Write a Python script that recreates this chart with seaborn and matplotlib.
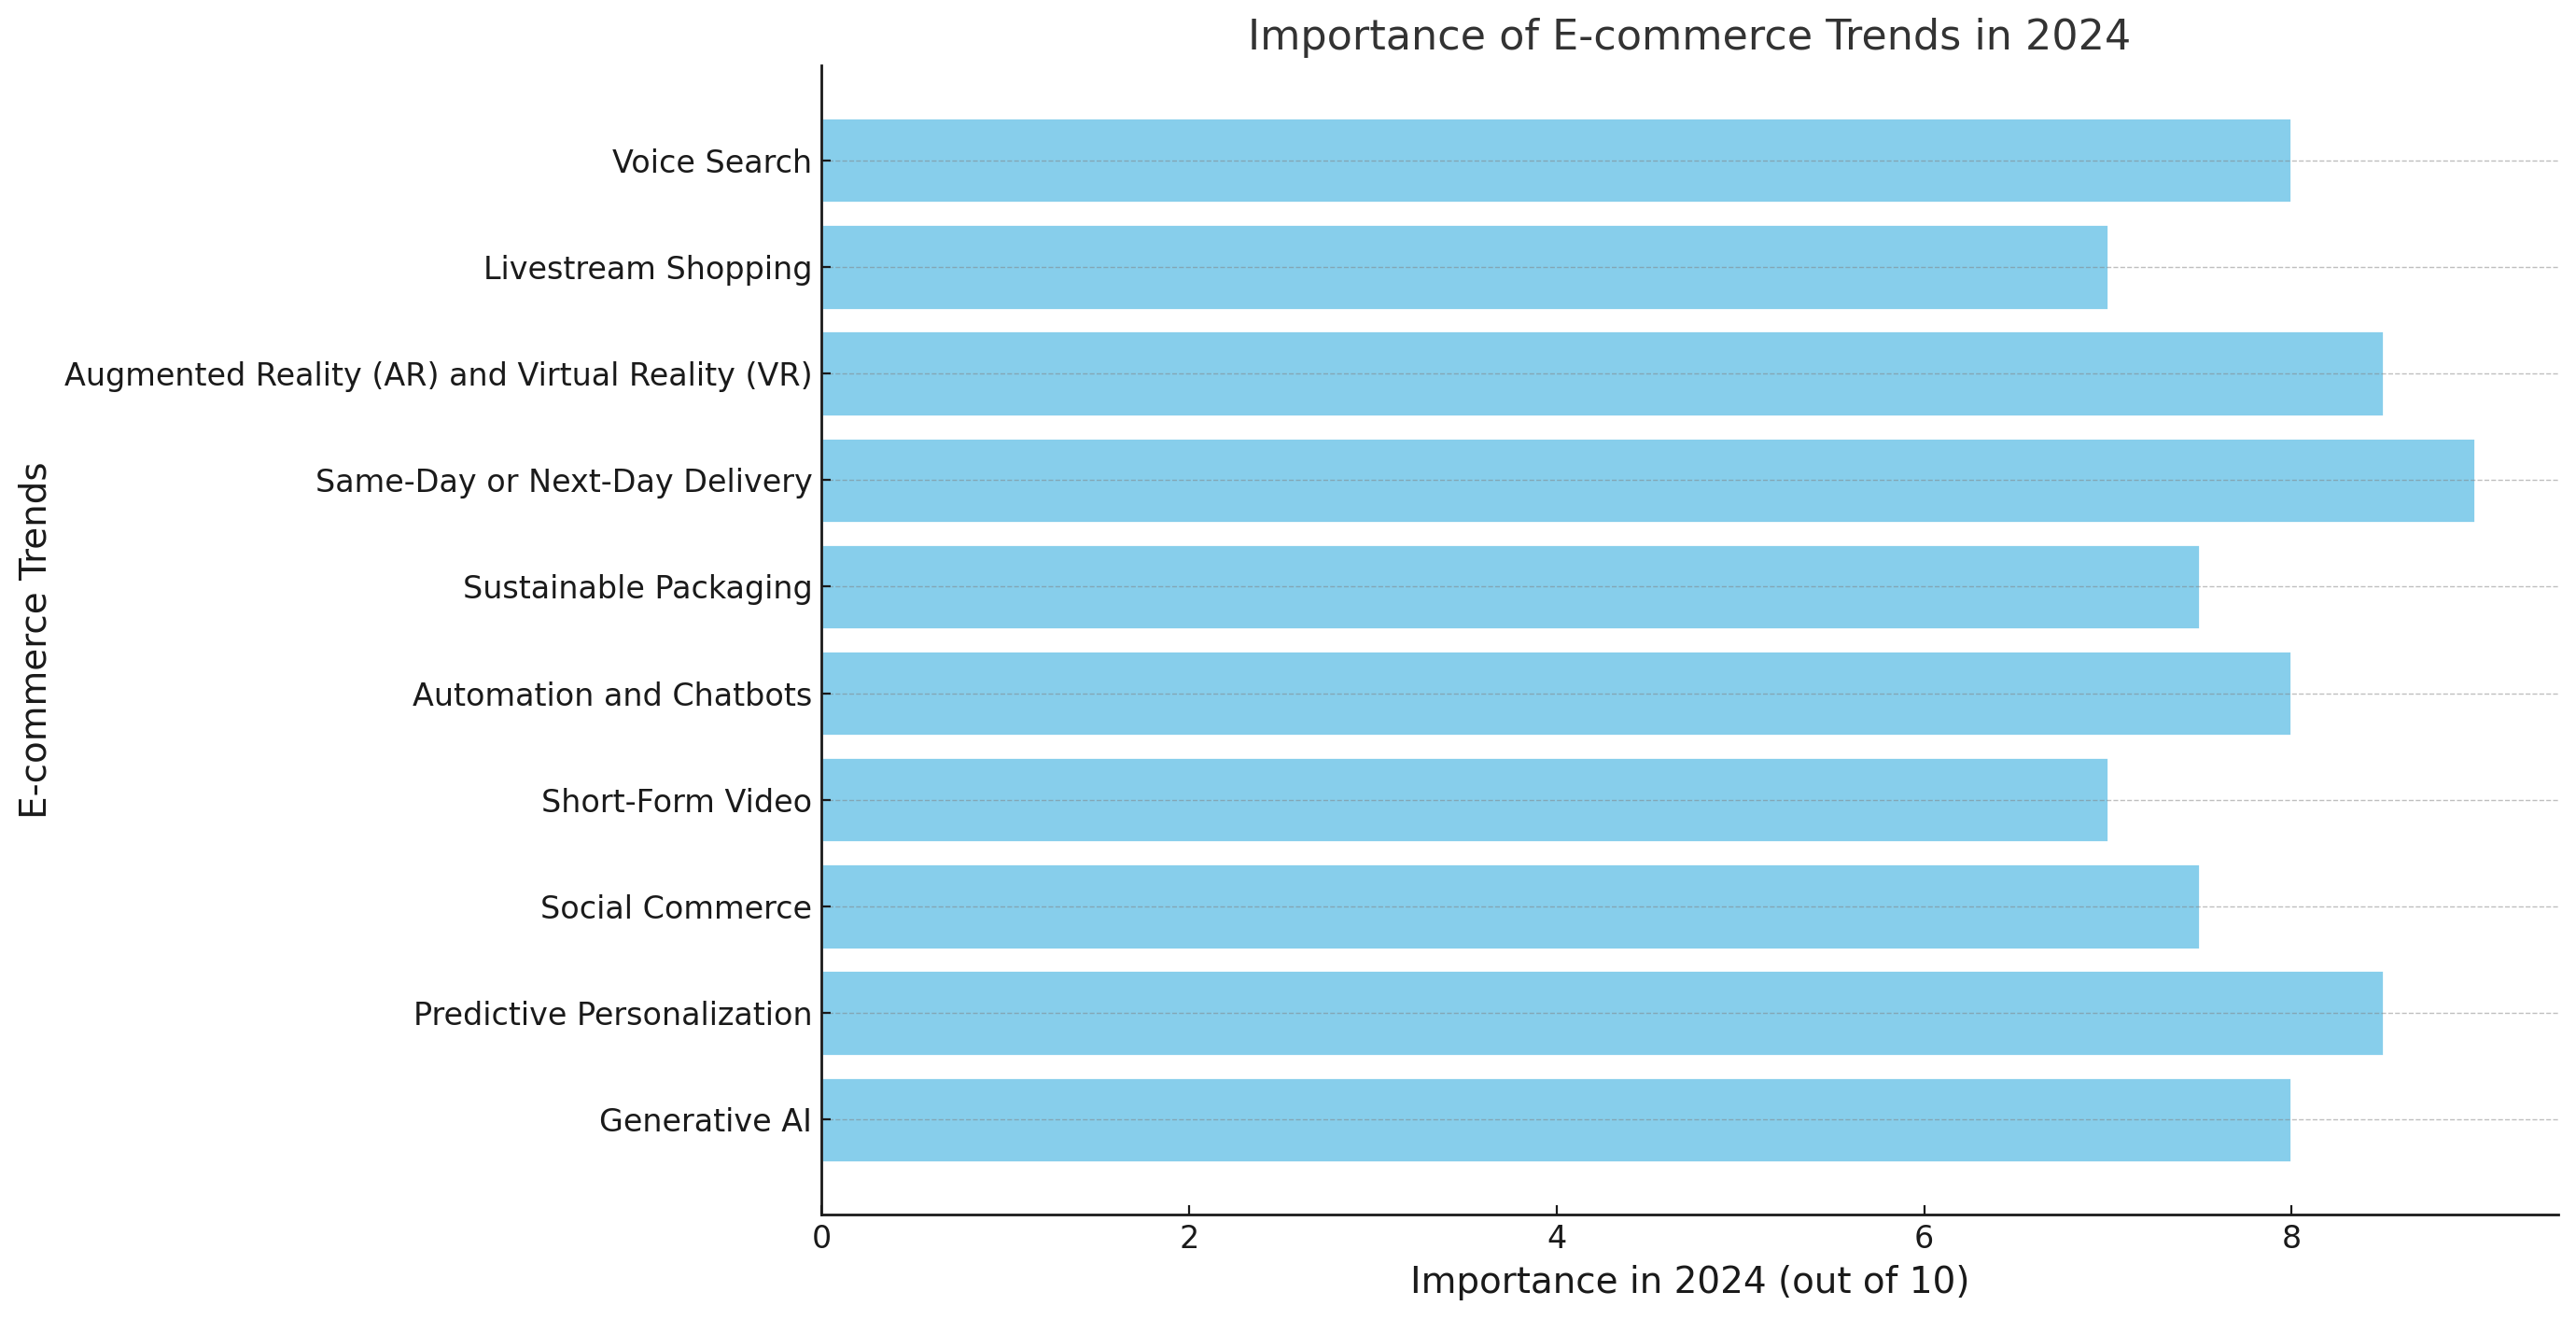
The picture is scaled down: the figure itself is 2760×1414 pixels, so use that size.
import matplotlib
matplotlib.use("Agg")
import matplotlib.pyplot as plt
import seaborn as sns
import pandas as pd

trends = [
    "Generative AI",
    "Predictive Personalization",
    "Social Commerce",
    "Short-Form Video",
    "Automation and Chatbots",
    "Sustainable Packaging",
    "Same-Day or Next-Day Delivery",
    "Augmented Reality (AR) and Virtual Reality (VR)",
    "Livestream Shopping",
    "Voice Search",
]
importance = [8, 8.5, 7.5, 7, 8, 7.5, 9, 8.5, 7, 8]

df = pd.DataFrame({"Trend": trends, "Importance": importance})

sns.set_style("ticks")
plt.rcParams["font.family"] = ["DejaVu Sans"]

fig = plt.figure(figsize=(13.8, 7.07), dpi=200)
ax = fig.add_axes([880 / 2760, 1 - 1301 / 1414, (2741 - 880) / 2760, (1301 - 70) / 1414])

sns.barplot(data=df, x="Importance", y="Trend", order=trends[::-1],
            color="#87CEEB", saturation=1, width=0.8, orient="h", ax=ax)

n = len(trends)
ax.set_xlim(0, 9.45)
ax.set_ylim(n - 1 + 0.89, -0.89)
ax.set_xticks([0, 2, 4, 6, 8])
ax.grid(axis="y", linestyle="--", linewidth=0.5, color="gray", alpha=0.5)
ax.grid(axis="x", visible=False)
ax.set_axisbelow(False)

ax.set_title("Importance of E-commerce Trends in 2024", fontsize=16, color="#333333")
ax.set_xlabel("Importance in 2024 (out of 10)", fontsize=14, color="#1a1a1a")
ax.set_ylabel("E-commerce Trends", fontsize=14, color="#1a1a1a")
ax.tick_params(axis="both", labelsize=12, direction="in", colors="#1a1a1a")

for s in ["top", "right"]:
    ax.spines[s].set_visible(False)
for s in ["left", "bottom"]:
    ax.spines[s].set_color("#1a1a1a")
    ax.spines[s].set_linewidth(1.0)

fig.savefig("out.png", dpi=200)
